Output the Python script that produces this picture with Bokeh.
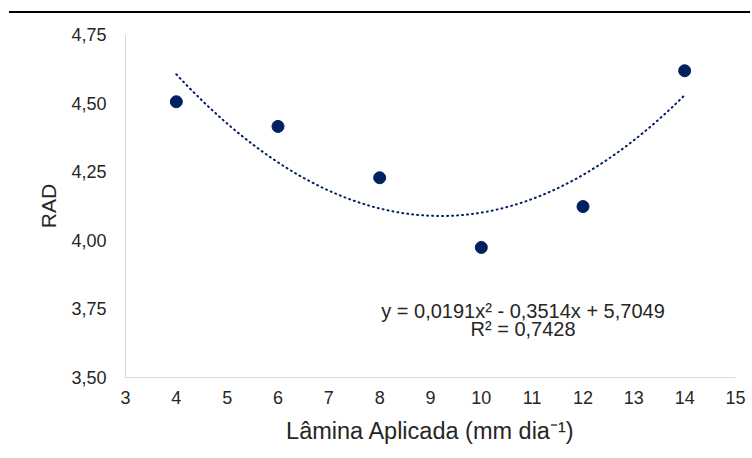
import numpy as np
from bokeh.plotting import figure
from bokeh.models import FixedTicker, Label, InlineStyleSheet
from bokeh.embed import file_html
from bokeh.resources import INLINE

# Data
lamina = [4, 6, 8, 10, 12, 14]
rad = [4.505, 4.415, 4.228, 3.974, 4.123, 4.618]
trend_coef = [0.0191, -0.3514, 5.7049]  # y = a x^2 + b x + c (fitted, shown on chart)
equation_text = "y = 0,0191x² - 0,3514x + 5,7049"
r2_text = "R² = 0,7428"
x_ticks = list(range(3, 16))
y_ticks = [3.50, 3.75, 4.00, 4.25, 4.50, 4.75]
y_tick_labels = ["3,50", "3,75", "4,00", "4,25", "4,50", "4,75"]

NAVY = "#002060"
FONT = "Liberation Sans"

top_rule = InlineStyleSheet(css=""":host { position: relative; }
:host::before { content: ''; position: absolute; left: 9px; top: 11px; width: 741px; height: 1.5px;
  background: #000; z-index: 10; }""")

p = figure(width=750, height=456, x_range=(3, 15), y_range=(3.5, 4.75),
           output_backend="svg", toolbar_location=None,
           min_border_left=125, min_border_right=15, min_border_top=34, min_border_bottom=79,
           stylesheets=[top_rule])
p.outline_line_color = None
p.xgrid.grid_line_color = None
p.ygrid.grid_line_color = None

# trend line
xs = np.linspace(min(lamina), max(lamina), 200)
ys = np.polyval(trend_coef, xs)
p.line(xs, ys, line_color=NAVY, line_width=2, line_dash="1 4", line_cap="round")

p.scatter(lamina, rad, size=12, fill_color=NAVY, line_color=NAVY)

for ax in (p.xaxis[0], p.yaxis[0]):
    ax.axis_line_color = "#D9D9D9"
    ax.axis_line_width = 1
    ax.major_tick_line_color = None
    ax.minor_tick_line_color = None
    ax.major_label_text_font = FONT
    ax.major_label_text_font_size = "18px"
    ax.major_label_text_color = "#262626"
    ax.axis_label_text_font = FONT
    ax.axis_label_text_font_style = "normal"
    ax.axis_label_text_color = "#262626"

p.xaxis.axis_label_text_font_size = "23.5px"
p.yaxis.axis_label_text_font_size = "21px"
p.xaxis.ticker = FixedTicker(ticks=x_ticks)
p.yaxis.ticker = FixedTicker(ticks=y_ticks)
p.yaxis.major_label_overrides = {t: l for t, l in zip(y_ticks, y_tick_labels)}
p.xaxis.axis_label = "Lâmina Aplicada (mm dia⁻¹)"
p.yaxis.axis_label = "RAD"
p.xaxis.major_label_standoff = 7
p.yaxis.major_label_standoff = 13
p.xaxis.axis_label_standoff = 11
p.yaxis.axis_label_standoff = 8

p.add_layout(Label(x=10.82, y=3.744, text=equation_text, text_align="center", text_baseline="middle",
                   text_font=FONT, text_font_size="20px", text_color="#262626"))
p.add_layout(Label(x=10.82, y=3.675, text=r2_text, text_align="center", text_baseline="middle",
                   text_font=FONT, text_font_size="20px", text_color="#262626"))

open("out.html", "w").write(file_html(p, INLINE))
